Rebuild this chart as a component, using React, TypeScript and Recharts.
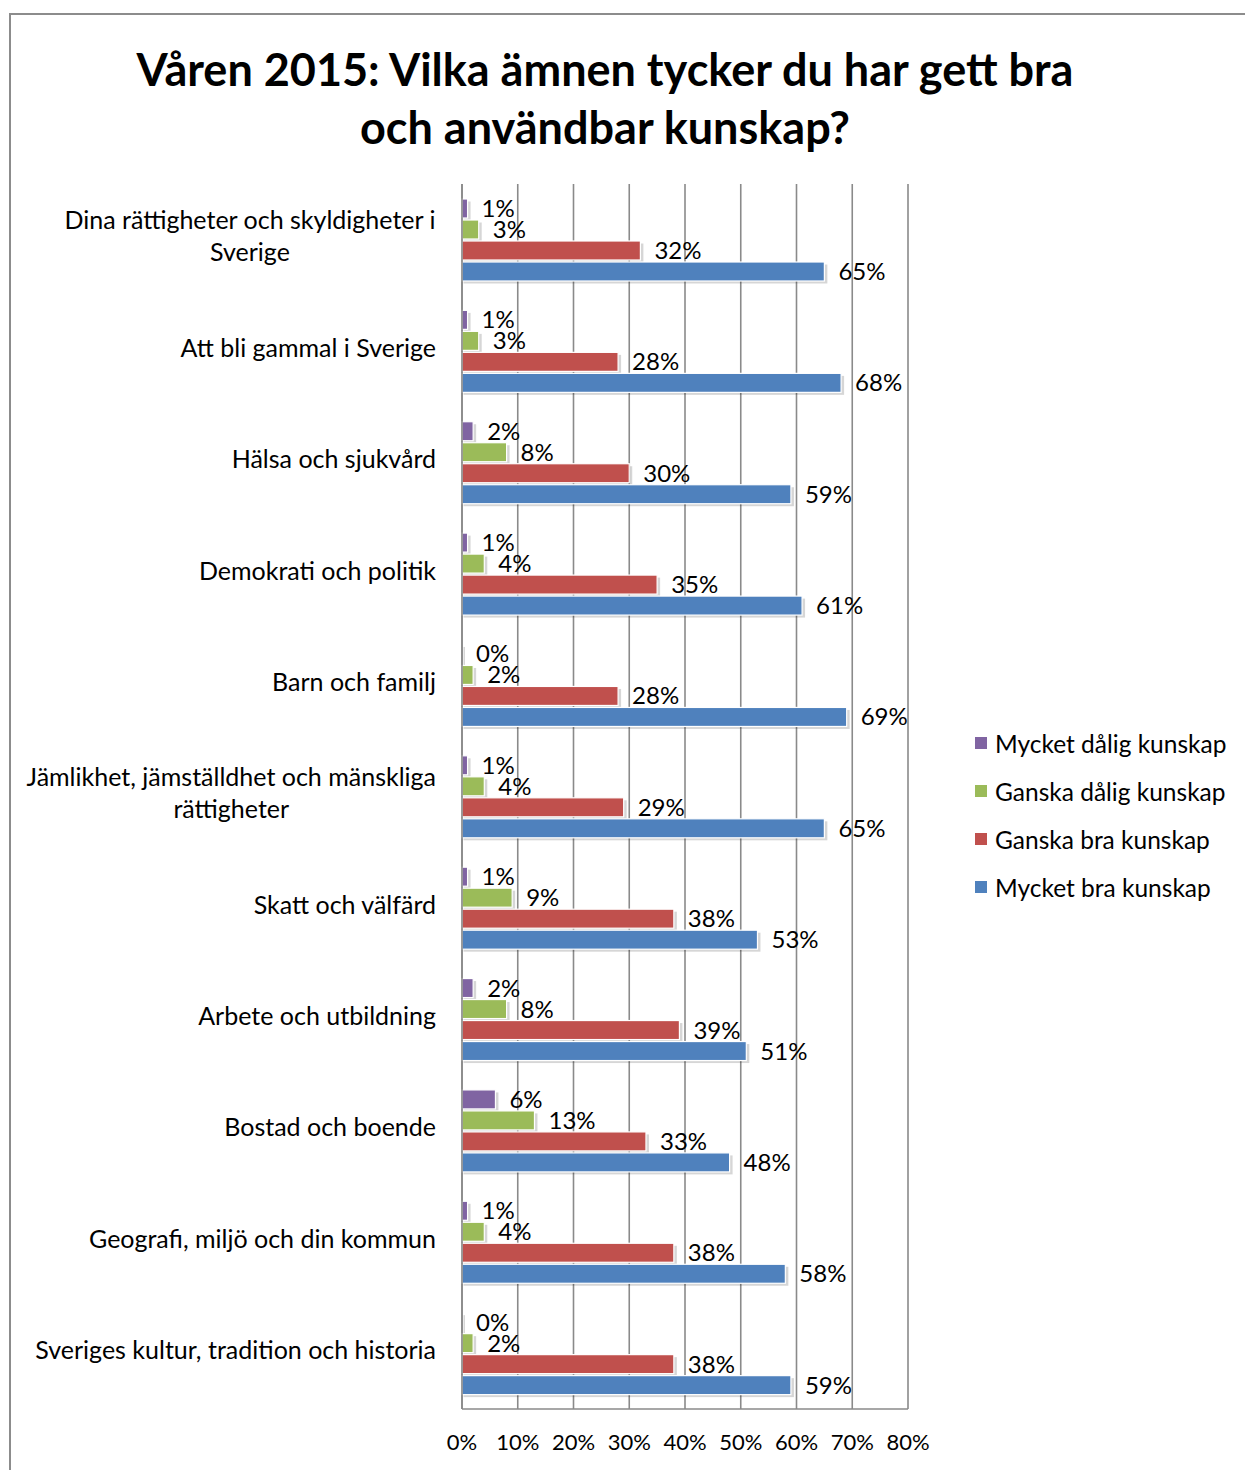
import React from "react";
import {
  BarChart,
  Bar,
  XAxis,
  YAxis,
  CartesianGrid,
  Legend,
  LabelList,
} from "recharts";

// Ämnen (kategorier), uppifrån och ned
const categories = [
  "Dina rättigheter och skyldigheter i Sverige",
  "Att bli gammal i Sverige",
  "Hälsa och sjukvård",
  "Demokrati och politik",
  "Barn och familj",
  "Jämlikhet, jämställdhet och mänskliga rättigheter",
  "Skatt och välfärd",
  "Arbete och utbildning",
  "Bostad och boende",
  "Geografi, miljö och din kommun",
  "Sveriges kultur, tradition och historia",
];

// Andel svar i procent per ämne
const mycketDalig = [1, 1, 2, 1, 0, 1, 1, 2, 6, 1, 0];
const ganskaDalig = [3, 3, 8, 4, 2, 4, 9, 8, 13, 4, 2];
const ganskaBra = [32, 28, 30, 35, 28, 29, 38, 39, 33, 38, 38];
const mycketBra = [65, 68, 59, 61, 69, 65, 53, 51, 48, 58, 59];

const xTicks = [0, 10, 20, 30, 40, 50, 60, 70, 80];

const series = [
  { key: "mycketDalig", name: "Mycket dålig kunskap", color: "#8064A2" },
  { key: "ganskaDalig", name: "Ganska dålig kunskap", color: "#9BBB59" },
  { key: "ganskaBra", name: "Ganska bra kunskap", color: "#C0504D" },
  { key: "mycketBra", name: "Mycket bra kunskap", color: "#4F81BD" },
];

const data = categories.map((cat, i) => ({
  cat,
  mycketDalig: mycketDalig[i],
  ganskaDalig: ganskaDalig[i],
  ganskaBra: ganskaBra[i],
  mycketBra: mycketBra[i],
}));

const FONT = "Lato, 'Open Sans', sans-serif";
const LABEL_SIZE = 24;
const CAT_SIZE = 25;

let measureCtx: CanvasRenderingContext2D | null = null;
const textWidth = (s: string) => {
  if (!measureCtx) {
    measureCtx = document.createElement("canvas").getContext("2d");
  }
  if (!measureCtx) return s.length * 11;
  measureCtx.font = `${CAT_SIZE}px Lato`;
  return measureCtx.measureText(s).width;
};

const wrap = (s: string, maxW: number) => {
  const words = s.split(" ");
  const lines: string[] = [];
  let cur = "";
  words.forEach((w) => {
    const next = cur ? cur + " " + w : w;
    if (cur && textWidth(next) > maxW) {
      lines.push(cur);
      cur = w;
    } else {
      cur = next;
    }
  });
  if (cur) lines.push(cur);
  return lines;
};

const CategoryTick = (props: any) => {
  const { x, y, payload } = props;
  const lines = wrap(String(payload.value), 430);
  const lineH = 32;
  if (lines.length === 1) {
    return (
      <text x={x} y={y - 3} dy="0.35em" textAnchor="end" fontSize={CAT_SIZE} fontFamily={FONT} fill="#000">
        {lines[0]}
      </text>
    );
  }
  const maxW = Math.max(...lines.map(textWidth));
  const cx = x - maxW / 2;
  const top = y - 3 - ((lines.length - 1) * lineH) / 2;
  return (
    <text textAnchor="middle" fontSize={CAT_SIZE} fontFamily={FONT} fill="#000">
      {lines.map((l, i) => (
        <tspan key={i} x={cx} y={top + i * lineH} dy="0.35em">
          {l}
        </tspan>
      ))}
    </text>
  );
};

const ShadowBar = (props: any) => {
  const { x, y, width, height, fill } = props;
  if (x == null || y == null) return null;
  const w = Math.max(width || 0, 0);
  return (
    <g>
      <rect x={x + 1.5} y={y + 2.5} width={w + 1.5} height={height} fill="#000" opacity={0.16} />
      <rect x={x} y={y} width={w} height={height} fill={fill} stroke="#fff" strokeWidth={1.2} />
    </g>
  );
};

const LegendContent = () => (
  <div style={{ fontFamily: FONT, fontSize: 24.5, color: "#000" }}>
    {series.map((s) => (
      <div key={s.key} style={{ display: "flex", alignItems: "center", height: 48 }}>
        <span style={{ display: "inline-block", width: 12, height: 12, background: s.color, marginRight: 8 }} />
        <span>{s.name}</span>
      </div>
    ))}
  </div>
);

export default function App() {
  return (
    <div style={{ position: "absolute", left: 0, top: 0, width: 1245, height: 1470, background: "#fff" }}>
      <div
        style={{
          position: "absolute",
          left: 9,
          top: 13,
          width: 1260,
          height: 1500,
          border: "2px solid #8c8c8c",
          boxSizing: "border-box",
        }}
      />
      <div
        style={{
          position: "absolute",
          left: 0,
          width: 1210,
          top: 40,
          textAlign: "center",
          fontFamily: FONT,
          fontWeight: 700,
          fontSize: 45,
          lineHeight: "58px",
          color: "#000",
        }}
      >
        Våren 2015: Vilka ämnen tycker du har gett bra
        <br />
        och användbar kunskap?
      </div>
      <div style={{ position: "absolute", left: 0, top: 0 }}>
        <BarChart
          width={1245}
          height={1470}
          data={data}
          layout="vertical"
          margin={{ top: 184, right: 337, bottom: 11, left: 0 }}
          barSize={19}
          barGap={2}
        >
          <CartesianGrid horizontal={false} vertical stroke="#8a8a8a" strokeWidth={1.6} />
          <XAxis
            type="number"
            domain={[0, 80]}
            ticks={xTicks}
            tickFormatter={(v) => `${v}%`}
            height={50}
            tickLine={false}
            tickSize={0}
            tickMargin={25}
            axisLine={{ stroke: "#8a8a8a", strokeWidth: 1.6 }}
            tick={{ fontSize: 22, fontFamily: FONT, fill: "#000" }}
            interval={0}
          />
          <YAxis
            type="category"
            dataKey="cat"
            width={462}
            tickLine={false}
            tickSize={0}
            tickMargin={26}
            axisLine={{ stroke: "#8a8a8a", strokeWidth: 1.6 }}
            tick={<CategoryTick />}
            interval={0}
          />
          <Legend
            layout="vertical"
            align="center"
            verticalAlign="middle"
            content={<LegendContent />}
            wrapperStyle={{ left: 975, top: 719, width: 270 }}
          />
          {series.map((s) => (
            <Bar
              key={s.key}
              dataKey={s.key}
              name={s.name}
              fill={s.color}
              shape={<ShadowBar />}
              isAnimationActive={false}
            >
              <LabelList
                dataKey={s.key}
                position="right"
                offset={14}
                formatter={(v: any) => `${v}%`}
                style={{ fontSize: LABEL_SIZE, fontFamily: FONT, fill: "#000" }}
              />
            </Bar>
          ))}
        </BarChart>
      </div>
    </div>
  );
}
